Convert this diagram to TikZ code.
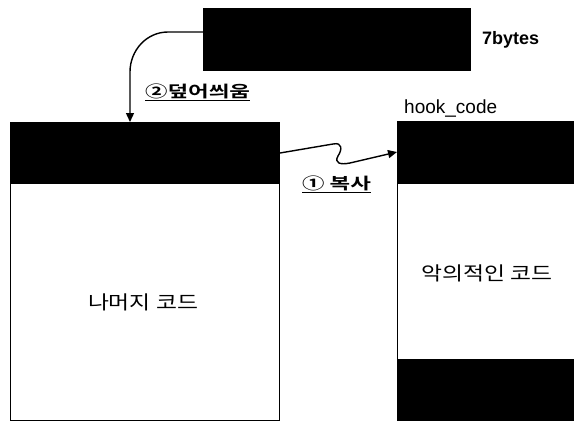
\documentclass[tikz,border=0pt]{standalone}
\usepackage{fontspec}
\setmainfont{Liberation Sans}
\newfontfamily\kr[FakeStretch=1.2]{Noto Sans CJK KR}
\newfontfamily\krb[FakeStretch=1.4]{Noto Sans CJK KR Bold}
\usetikzlibrary{arrows.meta}
\begin{document}
\begin{tikzpicture}[x=1pt,y=-1pt,
  blk/.style={draw=black,fill=black,line width=1pt,minimum width=#1,inner sep=0pt,anchor=north west},
  wht/.style={draw=black,fill=white,line width=1pt,minimum width=#1,inner sep=0pt,anchor=north west},
  conn/.style={line width=1.4pt,-{Triangle[length=9pt,width=8pt]}},
  boxtxt/.style={font=\fontsize{19}{22}\selectfont\kr},
  steptxt/.style={font=\fontsize{16}{18}\selectfont\krb,anchor=west,inner sep=0pt}]
\useasboundingbox (0,0) rectangle (574,421);
% top box
\node[blk=267pt,minimum height=62pt] (topbox) at (203,8) {};
\node[anchor=west,inner sep=0pt,font=\fontsize{18}{20}\selectfont\bfseries] (bytes) at (482,40) {7bytes};
% left box
\node[blk=269pt,minimum height=61pt] (lefttop) at (10,122) {};
\node[wht=269pt,minimum height=237pt] (leftbody) at (10,183) {};
\node[boxtxt] (lefttext) at (143,302) {나머지 코드};
% right box
\node[blk=177pt,minimum height=62pt] (righttop) at (397,121) {};
\node[wht=177pt,minimum height=176pt] (rightmid) at (397,183) {};
\node[blk=177pt,minimum height=61pt] (rightbot) at (397,359) {};
\node[boxtxt] (righttext) at (487,273) {악의적인 코드};
\node[anchor=base west,inner sep=0pt,font=\fontsize{19}{22}\selectfont] (hook) at (404,113) {hook\_code};
% labels
\node[steptxt] (lbl2) at (145,92) {\underline{②덮어씌움}};
\node[steptxt] (lbl1) at (302,184) {\underline{① 복사}};
% connectors
\coordinate (s2) at (topbox.west |- 0,32);
\coordinate (e2) at (130,122);
\draw[conn] (s2) -- (168,32) to[out=180,in=90] (130,72) -- (e2);
\coordinate (s1) at (lefttop.east |- 0,153);
\coordinate (e1) at (righttop.west |- 0,152);
\draw[conn] (s1) -- (333,144) .. controls (343,142) and (342,150) .. (338,156)
  .. controls (334,163) and (340,165) .. (350,163) -- (e1);
\end{tikzpicture}
\end{document}
